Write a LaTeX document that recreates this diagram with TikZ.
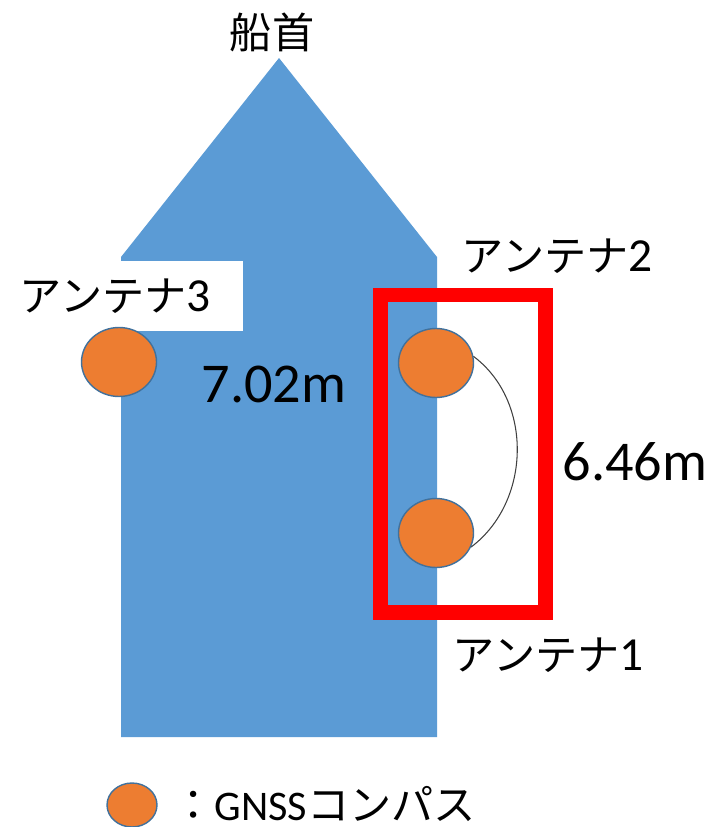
\documentclass[tikz,border=0pt]{standalone}
\usepackage{fontspec}
\setmainfont{Carlito}
\newfontfamily\jpfont{Noto Sans CJK JP}
\usetikzlibrary{shapes.geometric,positioning}
\definecolor{hullblue}{RGB}{91,155,213}
\definecolor{gnssorange}{RGB}{237,125,49}
\definecolor{gnssedge}{RGB}{65,113,156}
\newcommand{\antno}[1]{{\jpfont アンテナ}{\fontsize{27}{28}\selectfont #1}}

\begin{document}
\begin{tikzpicture}[x=0.02cm, y=-0.02cm,
  antenna/.style={ellipse, fill=gnssorange, draw=gnssedge, line width=0.8pt,
    minimum width=1.5cm, minimum height=1.38cm, inner sep=0pt},
  lab/.style={font=\fontsize{24}{28}\selectfont, inner sep=0pt},
  dist/.style={font=\fontsize{32}{36}\selectfont, inner sep=0pt}]
\useasboundingbox (0,0) rectangle (726,827);
% hull
\fill[hullblue] (279,58) -- (437,257) -- (437,737) -- (121,737) -- (121,257) -- cycle;
\fill[white] (0,261) rectangle (243,331);
\draw[red, line width=0.3cm] (380.5,295) rectangle (545,612.5);
% antennas
\node[antenna] (ant1) at (436,533) {};
\node[antenna] (ant2) at (436,363) {};
\node[antenna] (ant3) at (119,362) {};
\draw[black!75, line width=0.6pt] (ant2.10) .. controls +(60,45) and +(60,-45) .. (ant1.-22);
% labels
\node[lab] (bow) at (272,32) {\jpfont 船首};
\node[lab] (lab2) at (557,256) {\antno{2}};
\node[lab] (lab3) at (115,296) {\antno{3}};
\node[lab] (lab1) at (548,655) {\antno{1}};
\node[dist] (d3) at (274,384) {7.02m};
\node[dist] (d12) at (635,462) {6.46m};
% legend
\node[antenna, minimum width=1cm, minimum height=0.88cm] (key) at (132,805) {};
\node[lab, anchor=west] (keytext) at (172,804) {{\jpfont ：}GNSS{\jpfont コンパス}};
\end{tikzpicture}
\end{document}
